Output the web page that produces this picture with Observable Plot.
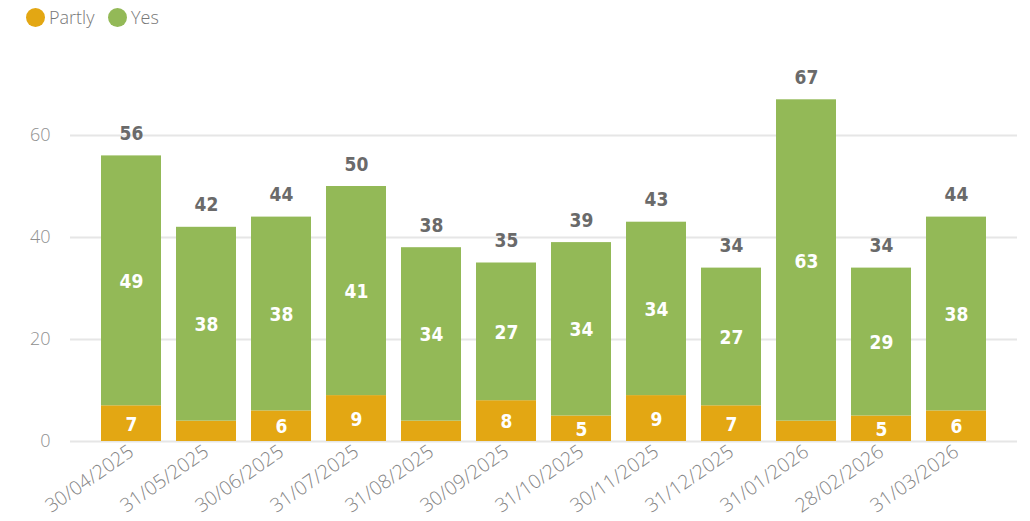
<!DOCTYPE html>
<html>
<head>
<meta charset="utf-8">
<script src="https://cdn.jsdelivr.net/npm/d3@7"></script>
<script src="https://cdn.jsdelivr.net/npm/@observablehq/plot@0.6"></script>
<style>
  body { margin: 0; background: #fff; }
  #legend { position: relative; height: 35px; font-family: "Open Sans", sans-serif; font-weight: 300; font-size: 18px; color: #777; }
  .item { position: absolute; top: 5px; display: flex; align-items: center; }
  .dot { width: 19px; height: 19px; border-radius: 50%; margin-right: 4px; }
  svg g[aria-label="text"] text { font-stretch: condensed; }
</style>
</head>
<body>
<div id="legend"></div>
<div id="chart"></div>
<script>
const dates = ["30/04/2025","31/05/2025","30/06/2025","31/07/2025","31/08/2025","30/09/2025","31/10/2025","30/11/2025","31/12/2025","31/01/2026","28/02/2026","31/03/2026"];
const partly = [7,4,6,9,4,8,5,9,7,4,5,6];
const yes = [49,38,38,41,34,27,34,34,27,63,29,38];
const seriesNames = ["Partly","Yes"];
const seriesColors = ["#E3A713","#93B957"];
const yTicks = [0,20,40,60];

const data = dates.flatMap((d, i) => [
  {date: d, series: "Partly", value: partly[i]},
  {date: d, series: "Yes", value: yes[i]}
]);
const totals = dates.map((d, i) => ({date: d, total: partly[i] + yes[i]}));

// legend
const legend = document.getElementById("legend");
const legendX = [26, 108];
seriesNames.forEach((s, i) => {
  const it = document.createElement("div");
  it.className = "item";
  it.style.left = legendX[i] + "px";
  it.innerHTML = `<span class="dot" style="background:${seriesColors[i]}"></span><span>${s}</span>`;
  legend.appendChild(it);
});

const labelFont = {fontFamily: "DejaVu Sans", fontWeight: "bold", fontSize: 19};

const chart = Plot.plot({
  width: 1030,
  height: 486,
  marginLeft: 70,
  marginRight: 13,
  marginTop: 49,
  marginBottom: 80,
  style: {fontFamily: "Open Sans, sans-serif", background: "#fff"},
  x: {domain: dates, paddingInner: 0.2, paddingOuter: 0.413, label: null},
  y: {domain: [0, 70], label: null},
  color: {domain: seriesNames, range: seriesColors},
  marks: [
    Plot.ruleY(yTicks, {stroke: "#e6e6e6", strokeWidth: 2}),
    Plot.barY(data, {x: "date", y: "value", fill: "series"}),
    Plot.text(data, Plot.stackY({
      x: "date", y: "value",
      text: d => (d.series === "Partly" && d.value < 5) ? "" : String(d.value),
      fill: "white", ...labelFont, dy: 1
    })),
    Plot.text(totals, {x: "date", y: "total", text: d => String(d.total), dy: -22, fill: "#6a6a6a", ...labelFont}),
    Plot.axisY(yTicks, {tickSize: 0, tickPadding: 20, fontSize: 18, fontWeight: 300, fill: "#8f8f8f", label: null}),
    Plot.axisX({tickSize: 0, tickPadding: 8, tickRotate: -35, fontSize: 19.5, fontWeight: 300, fill: "#858585", label: null})
  ]
});
document.getElementById("chart").appendChild(chart);
</script>
</body>
</html>
